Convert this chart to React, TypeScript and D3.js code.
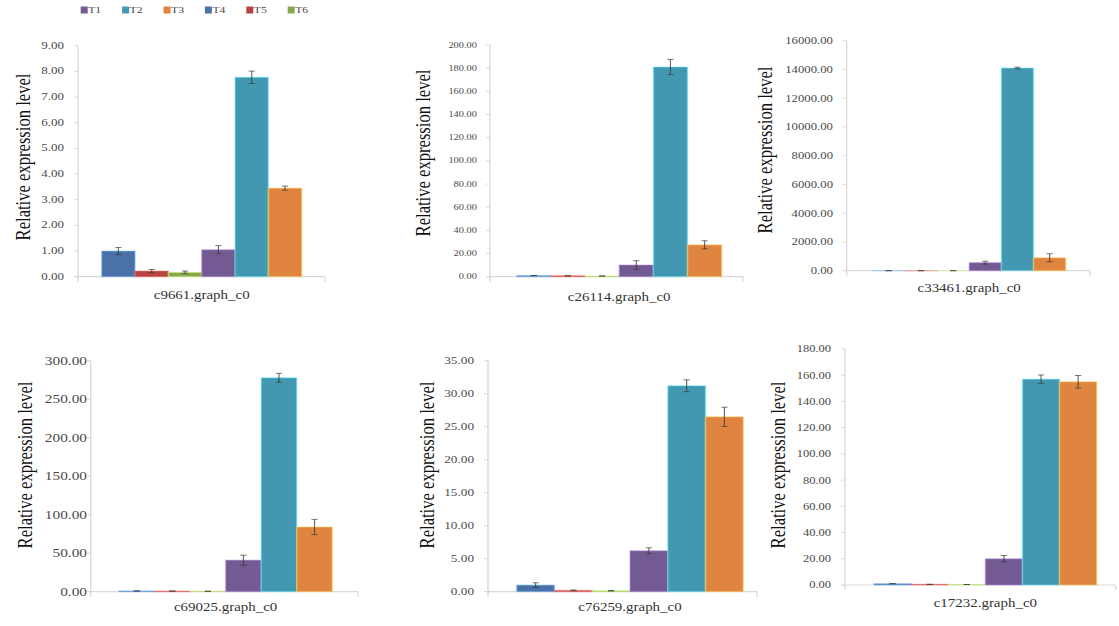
import * as d3 from 'd3';
import React from 'react';

// the source figure is stretched horizontally, so everything is drawn in a squeezed
// x system and scaled back up
const SX = 1.3;
const W = 1119;
const H = 626;

const genes = ['c9661.graph_c0', 'c26114.graph_c0', 'c33461.graph_c0', 'c69025.graph_c0', 'c76259.graph_c0', 'c17232.graph_c0'];
const treatments = ['T1', 'T2', 'T3', 'T4', 'T5', 'T6'];
const barOrder = ['T4', 'T5', 'T6', 'T1', 'T2', 'T3'];

const T1 = [1.05, 10.1, 560, 41.0, 6.2, 20.0];
const T2 = [7.77, 181.0, 14100, 277.8, 31.2, 157.0];
const T3 = [3.45, 27.5, 900, 84.0, 26.5, 155.0];
const T4 = [1.0, 1.0, 1.0, 1.0, 1.0, 1.0];
const T5 = [0.22, 0.8, 0.7, 0.8, 0.2, 0.5];
const T6 = [0.17, 0.6, 0.5, 0.6, 0.15, 0.4];

const T1err = [0.16, 3.7, 100, 6.5, 0.45, 2.5];
const T2err = [0.24, 6.6, 60, 5.8, 0.9, 3.2];
const T3err = [0.08, 3.5, 280, 10.0, 1.45, 4.8];
const T4err = [0.14, 0.1, 0.1, 0.1, 0.35, 0.1];
const T5err = [0.06, 0.05, 0.05, 0.05, 0.05, 0.05];
const T6err = [0.05, 0.05, 0.05, 0.05, 0.05, 0.05];

const yMax = [9, 200, 16000, 300, 35, 180];
const yStep = [1, 20, 2000, 50, 5, 20];

const colors: Record<string, string> = {
    T1: '#745a92',
    T2: '#4298b0',
    T3: '#df853f',
    T4: '#4a72a9',
    T5: '#b6433f',
    T6: '#88a850',
};

const values: Record<string, number[]> = { T1, T2, T3, T4, T5, T6 };
const errors: Record<string, number[]> = { T1: T1err, T2: T2err, T3: T3err, T4: T4err, T5: T5err, T6: T6err };

// panel frames in page pixels
const panels = [
    { axisX: 78, top: 45.7, bottom: 276.7, xEnd: 325, b0: 101.7, b1: 301.7, labelRight: 64, catY: 295, yLabX: 23, yLabY: 157, tickFs: 10 },
    { axisX: 490, top: 45, bottom: 276.7, xEnd: 743, b0: 516.7, b1: 721.7, labelRight: 477, catY: 296.7, yLabX: 423, yLabY: 153, tickFs: 8 },
    { axisX: 846.7, top: 40.7, bottom: 270.7, xEnd: 1090, b0: 872.7, b1: 1065.7, labelRight: 833, catY: 288, yLabX: 765, yLabY: 150, tickFs: 9.8 },
    { axisX: 90.7, top: 360.7, bottom: 591.7, xEnd: 358, b0: 119, b1: 332.3, labelRight: 87, catY: 606.7, yLabX: 25, yLabY: 465, tickFs: 11.8 },
    { axisX: 488, top: 360.7, bottom: 591.7, xEnd: 757, b0: 516.7, b1: 743.3, labelRight: 474, catY: 607, yLabX: 426.7, yLabY: 465, tickFs: 10.2 },
    { axisX: 845, top: 349, bottom: 585, xEnd: 1115.7, b0: 874, b1: 1096.7, labelRight: 831, catY: 603, yLabX: 778, yLabY: 465, tickFs: 9.6 },
];

const sx = (px: number) => px / SX;
const serif = '"Liberation Serif", "Times New Roman", serif';

const Panel = ({ gi }: { gi: number }) => {
    const p = panels[gi];
    const y = d3.scaleLinear().domain([0, yMax[gi]]).range([p.bottom, p.top]);
    const x = d3.scaleBand().domain(barOrder).range([sx(p.b0), sx(p.b1)]).padding(0);
    const ticks = d3.range(0, yMax[gi] + yStep[gi] / 2, yStep[gi]);
    const ax = sx(p.axisX);

    return (
        <g>
            {/* light grey axes, excel style */}
            <line x1={ax} x2={ax} y1={p.top} y2={p.bottom + 5} stroke="#d9d9d9" strokeWidth={1} />
            <line x1={ax - 3} x2={sx(p.xEnd)} y1={p.bottom} y2={p.bottom} stroke="#d9d9d9" strokeWidth={1.2} />
            <line x1={sx(p.xEnd)} x2={sx(p.xEnd)} y1={p.bottom} y2={p.bottom + 5} stroke="#d9d9d9" strokeWidth={1} />
            {ticks.map((t) => (
                <g key={t}>
                    <line x1={ax - 3} x2={ax} y1={y(t)} y2={y(t)} stroke="#d9d9d9" />
                    <text
                        x={sx(p.labelRight)}
                        y={y(t)}
                        textAnchor="end"
                        dominantBaseline="central"
                        fontSize={p.tickFs}
                        fill="#4a4a4a"
                        fontFamily={serif}
                    >
                        {t.toFixed(2)}
                    </text>
                </g>
            ))}

            {barOrder.map((t) => {
                const v = values[t][gi];
                const e = errors[t][gi];
                const c = colors[t];
                const cx = x(t)! + x.bandwidth() / 2;
                const lo = Math.max(0, v - e);
                return (
                    <g key={t}>
                        <rect
                            x={x(t)!}
                            y={y(v)}
                            width={x.bandwidth()}
                            height={Math.max(0, y(0) - y(v))}
                            fill={c}
                            stroke={d3.color(c)!.brighter(1.3).formatHex()}
                            strokeOpacity={0.45}
                            strokeWidth={1.2}
                        />
                        <g stroke="#3a3a3a" strokeOpacity={0.75} strokeWidth={0.9}>
                            <line x1={cx} x2={cx} y1={y(v + e)} y2={y(lo)} />
                            <line x1={cx - 2.4} x2={cx + 2.4} y1={y(v + e)} y2={y(v + e)} />
                            <line x1={cx - 2.4} x2={cx + 2.4} y1={y(lo)} y2={y(lo)} />
                        </g>
                    </g>
                );
            })}

            <text
                x={sx((p.b0 + p.b1) / 2)}
                y={p.catY}
                textAnchor="middle"
                dominantBaseline="central"
                fontSize={11.5}
                fill="#333"
                fontFamily={serif}
            >
                {genes[gi]}
            </text>
            <text
                transform={`translate(${sx(p.yLabX)},${p.yLabY}) rotate(-90)`}
                textAnchor="middle"
                dominantBaseline="central"
                fontSize={16.6}
                fill="#111"
                fontFamily={serif}
            >
                Relative expression level
            </text>
        </g>
    );
};

const Legend = () => {
    const lx = d3.scaleLinear().domain([0, treatments.length - 1]).range([80.7, 287.7]);
    return (
        <g>
            {treatments.map((t, i) => (
                <g key={t}>
                    <rect x={sx(lx(i))} y={6.5} width={sx(7)} height={7} fill={colors[t]} />
                    <text x={sx(lx(i) + 7.5)} y={10} dominantBaseline="central" fontSize={9} fill="#444" fontFamily={serif}>
                        {t}
                    </text>
                </g>
            ))}
        </g>
    );
};

export default function App() {
    return (
        <svg width={W} height={H} style={{ position: 'absolute', left: 0, top: 0, background: '#fff' }}>
            <g transform={`scale(${SX},1)`}>
                <Legend />
                {genes.map((g, i) => (
                    <Panel key={g} gi={i} />
                ))}
            </g>
        </svg>
    );
}
